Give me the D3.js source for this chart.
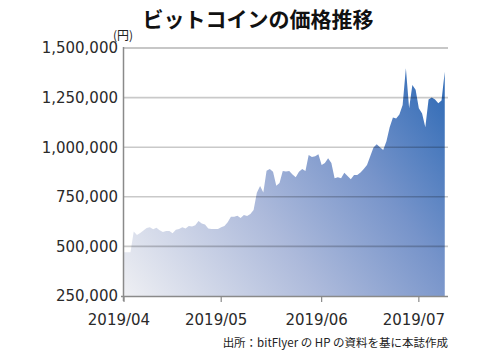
<!DOCTYPE html>
<html><head><meta charset="utf-8">
<script src="https://cdn.jsdelivr.net/npm/d3@7"></script>
<style>
html,body{margin:0;padding:0;background:#fff;}
svg{display:block;}
</style></head>
<body>
<svg id="chart" width="500" height="353"></svg>
<script>
// ---- data ----
const title = "ビットコインの価格推移";
const unitLabel = "(円)";
const sourceNote = "出所：bitFlyer の HP の資料を基に本誌作成";
const startDate = "2019-04-01";
// daily prices (JPY), 2019-04-01 .. 2019-07-09
const prices = [
 470000,470000,470000,575000,557000,567000,580000,593000,596000,586000,
 594000,582000,572000,578000,578000,566000,584000,588000,597000,590000,
 603000,600000,607000,628000,616000,611000,590000,588000,588000,588000,
 596000,603000,622000,650000,649000,655000,643000,658000,653000,663000,
 683000,770000,804000,772000,881000,890000,876000,806000,820000,880000,
 878000,880000,862000,848000,876000,890000,880000,961000,950000,955000,
 964000,910000,920000,944000,920000,843000,848000,843000,871000,855000,
 838000,860000,860000,872000,890000,910000,955000,999000,1015000,1000000,
 986000,1030000,1100000,1150000,1145000,1165000,1213000,1398000,1196000,1313000,
 1290000,1196000,1170000,1100000,1240000,1250000,1241000,1221000,1235000,1380000
];
const yTicks = [250000, 500000, 750000, 1000000, 1250000, 1500000];
const xTickDates = ["2019-04-01","2019-05-01","2019-06-01","2019-07-01"];
const xTickLabels = ["2019/04","2019/05","2019/06","2019/07"];

// ---- build ----
const parse = d3.utcParse("%Y-%m-%d");
const d0 = parse(startDate);
const data = prices.map((v,i)=>({date: d3.utcDay.offset(d0, i), value: v}));

const svg = d3.select("#chart");
const x = d3.scaleUtc().domain([parse("2019-04-01"), parse("2019-07-10")]).range([124, 448]);
const y = d3.scaleLinear().domain([250000, 1500000]).range([296, 48]);

const defs = svg.append("defs");
const grad = defs.append("linearGradient").attr("id","g")
  .attr("gradientUnits","userSpaceOnUse")
  .attr("x1",125).attr("y1",296).attr("x2",445).attr("y2",60);
[[0,"#eeeff3"],[0.4,"#adbadb"],[0.68,"#7794ca"],[1,"#2766b4"]].forEach(s=>
  grad.append("stop").attr("offset",s[0]).attr("stop-color",s[1]));

// title
svg.append("text").attr("x",258).attr("y",27).attr("text-anchor","middle")
  .attr("font-family","'Noto Sans CJK JP',sans-serif").attr("font-weight","bold")
  .attr("font-size",21).attr("fill","#111").text(title);

// area
const area = d3.area().x(d=>x(d.date)).y0(y(250000)).y1(d=>y(d.value)).curve(d3.curveLinear);
svg.append("path").datum(data).attr("d",area).attr("fill","url(#g)");

// gridlines
svg.append("g").selectAll("line").data(yTicks.filter(t=>t>250000)).join("line")
  .attr("x1",124).attr("x2",448)
  .attr("y1",d=>y(d)).attr("y2",d=>y(d))
  .attr("stroke",d=>d===1500000?"#8f8f8f":"rgba(0,0,0,0.21)")
  .attr("stroke-width",d=>d===1500000?1:1.6);

// y labels
svg.append("g").selectAll("text").data(yTicks).join("text")
  .attr("x",118).attr("y",d=>y(d)).attr("dy","0.36em").attr("text-anchor","end")
  .attr("font-family","'DejaVu Sans',sans-serif").attr("font-size",15).attr("fill","#2a2a2a")
  .text(d=>d3.format(",")(d));

// unit
svg.append("text").attr("x",123).attr("y",40).attr("text-anchor","middle")
  .attr("font-family","'Noto Sans CJK JP',sans-serif").attr("font-size",12).attr("fill","#222")
  .text(unitLabel);

// axes lines
svg.append("line").attr("x1",123.5).attr("x2",123.5).attr("y1",47).attr("y2",301)
  .attr("stroke","#8a8a8a").attr("stroke-width",1.5);
svg.append("line").attr("x1",121).attr("x2",448).attr("y1",296.5).attr("y2",296.5)
  .attr("stroke","#8a8a8a").attr("stroke-width",1.5);

// x ticks & labels
const xd = xTickDates.map(parse);
svg.append("g").selectAll("line").data(xd).join("line")
  .attr("x1",d=>x(d)).attr("x2",d=>x(d)).attr("y1",296).attr("y2",302)
  .attr("stroke","#8a8a8a").attr("stroke-width",1.2);
svg.append("g").selectAll("text").data(xd).join("text")
  .attr("x",d=>x(d)-5).attr("y",325).attr("text-anchor","middle")
  .attr("font-family","'DejaVu Sans',sans-serif").attr("font-size",15).attr("fill","#2a2a2a")
  .text((d,i)=>xTickLabels[i]);

// source
svg.append("text").attr("x",448).attr("y",347).attr("text-anchor","end")
  .attr("font-family","'Noto Sans CJK JP',sans-serif").attr("font-size",11.5).attr("fill","#222")
  .text(sourceNote);
</script>
</body></html>
